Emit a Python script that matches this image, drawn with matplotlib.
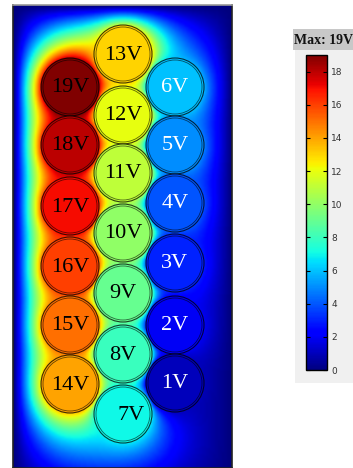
import numpy as np
import matplotlib
matplotlib.use('Agg')
import matplotlib.pyplot as plt
from matplotlib.patches import Circle, Rectangle
from matplotlib.cm import ScalarMappable
from matplotlib.colors import Normalize

# electrode layout (pixel coords of the reference) and voltages
left_x   = 70
left_y   = [87, 145, 206, 266, 325, 384]
left_v   = [19, 18, 17, 16, 15, 14]
mid_x    = 123
mid_y    = [54, 115, 173, 233, 293, 354, 414]
mid_v    = [13, 12, 11, 10, 9, 8, 7]
right_x  = 175
right_y  = [87, 145, 203, 263, 325, 383]
right_v  = [6, 5, 4, 3, 2, 1]
RADIUS   = 28.5
VMAX     = 19
cbar_ticks = [0, 2, 4, 6, 8, 10, 12, 14, 16, 18]

cx = [left_x] * len(left_y) + [mid_x] * len(mid_y) + [right_x] * len(right_y)
cy = left_y + mid_y + right_y
cv = left_v + mid_v + right_v

# box edges (grounded)
X0, X1, Y0, Y1 = 13, 232, 5, 500

# ─── potential: Laplace with fixed electrodes, red-black SOR ────────────────
h  = 2.0
xs = np.arange(X0, X1 + h / 2, h)
ys = np.arange(Y0, Y1 + h / 2, h)
XX, YY = np.meshgrid(xs, ys)
U     = np.zeros_like(XX)
fixed = np.zeros_like(XX, dtype=bool)
fixed[0, :] = fixed[-1, :] = fixed[:, 0] = fixed[:, -1] = True
for x, y, v in zip(cx, cy, cv):
    m = (XX - x) ** 2 + (YY - y) ** 2 <= RADIUS ** 2
    U[m] = v
    fixed[m] = True

ii, jj = np.indices(U.shape)
red   = ((ii + jj) % 2 == 0) & ~fixed
black = ((ii + jj) % 2 == 1) & ~fixed
omega = 2 / (1 + np.sin(np.pi / max(U.shape)))
for it in range(1500):
    for msk in (red, black):
        avg = np.zeros_like(U)
        avg[1:-1, 1:-1] = 0.25 * (U[:-2, 1:-1] + U[2:, 1:-1] + U[1:-1, :-2] + U[1:-1, 2:])
        U[msk] += omega * (avg[msk] - U[msk])

W, H = 353, 468
fig = plt.figure(figsize=(W / 100, H / 100), dpi=100)
fig.patch.set_facecolor('white')

# ─── legend panel (background first) ────────────────────────────────────────
bg = fig.add_axes([0, 0, 1, 1], zorder=-10)
bg.set_xlim(0, W)
bg.set_ylim(H, 0)
bg.axis('off')
bg.add_patch(Rectangle((295, 50), 58, 333, facecolor='#f0f0f0', edgecolor='none'))
bg.add_patch(Rectangle((293, 29), 60, 21, facecolor='#c8c8c8', edgecolor='none'))
bg.text(294, 40, 'Max: 19V', ha='left', va='center',
        fontsize=10, fontweight='bold', family='Liberation Serif', color='#111111')

ax = fig.add_axes([X0 / W, 0, (X1 - X0) / W, (H - Y0) / H])
cmap = plt.get_cmap('jet')
ax.imshow(U, cmap=cmap, vmin=0, vmax=VMAX, extent=[X0, X1, Y1, Y0],
          interpolation='bilinear', origin='upper')
for x, y, v in zip(cx, cy, cv):
    ax.add_patch(Circle((x, y), RADIUS + 0.5, facecolor=cmap(v / VMAX), edgecolor='none'))
    ax.add_patch(Circle((x, y), RADIUS + 0.5, fill=False, edgecolor='black', lw=0.8, alpha=0.75))
    ax.add_patch(Circle((x, y), RADIUS - 1.5, fill=False, edgecolor='black', lw=0.6, alpha=0.6))
    ax.text(x + (8 if v == 7 else 0), y + 1, f'{v}V', ha='center', va='center',
            fontsize=16, family='Liberation Serif',
            color='white' if v <= 6 else 'black')
ax.set_xlim(X0, X1)
ax.set_ylim(H, Y0)
ax.set_xticks([])
ax.set_yticks([])
for sp in ax.spines.values():
    sp.set_edgecolor('#222222')
    sp.set_linewidth(1.2)
ax.spines['top'].set_edgecolor('#999999')

cax = fig.add_axes([306 / W, 1 - 370 / H, 21 / W, 315 / H])
cb = fig.colorbar(ScalarMappable(norm=Normalize(0, VMAX), cmap=cmap), cax=cax)
cb.set_ticks(cbar_ticks)
cb.outline.set_linewidth(1.0)
cax.tick_params(axis='y', which='both', direction='in', left=True, right=True,
                length=3, width=0.8, labelsize=6.5, labelcolor='#333333', pad=3)

plt.savefig('out.png', dpi=100, facecolor='white')
plt.close()
